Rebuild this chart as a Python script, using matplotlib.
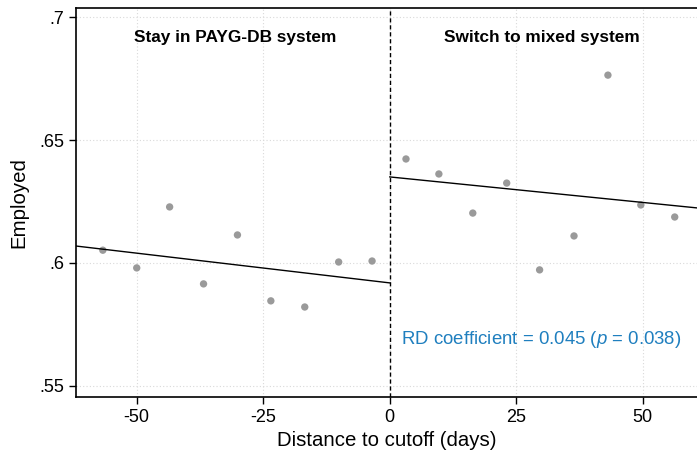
import numpy as np
import matplotlib.pyplot as plt

plt.rcParams['font.family'] = ['Liberation Sans', 'DejaVu Sans']
plt.rcParams['mathtext.fontset'] = 'custom'
plt.rcParams['mathtext.it'] = 'Liberation Sans:italic'
plt.rcParams['mathtext.rm'] = 'Liberation Sans'

# binned means, left of cutoff
x_left = [-56.7, -50.0, -43.5, -36.8, -30.1, -23.5, -16.8, -10.1, -3.5]
y_left = [0.6052, 0.5980, 0.6228, 0.5915, 0.6114, 0.5846, 0.5821, 0.6004, 0.6008]
# binned means, right of cutoff
x_right = [3.2, 9.7, 16.4, 23.1, 29.6, 36.4, 43.1, 49.6, 56.3]
y_right = [0.6423, 0.6362, 0.6203, 0.6325, 0.5972, 0.6110, 0.6764, 0.6236, 0.6187]

# fitted lines (endpoints)
fit_left_x = [-62, 0]
fit_left_y = [0.6069, 0.5919]
fit_right_x = [0, 60.7]
fit_right_y = [0.6350, 0.6224]

xticks = [-50, -25, 0, 25, 50]
yticks = [0.55, 0.6, 0.65, 0.7]
ytick_labels = ['.55', '.6', '.65', '.7']

fig = plt.figure(figsize=(6.97, 4.51), dpi=100)
ax = fig.add_axes([76/697, 1 - 397/451, 621/697, 389/451])

ax.set_xlim(-62, 60.7)
ax.set_ylim(0.5455, 0.7037)

for t in xticks:
    ax.axvline(t, color='#d9d9d9', lw=0.8, ls=(0, (1, 2)), zorder=0)
for t in yticks:
    ax.axhline(t, color='#d9d9d9', lw=0.8, ls=(0, (1, 2)), zorder=0)

ax.axvline(0, color='black', lw=1.0, ls=(0, (3, 2)), zorder=2)

ax.scatter(x_left, y_left, s=28, color='#9a9a9a', edgecolors='none', zorder=3)
ax.scatter(x_right, y_right, s=28, color='#9a9a9a', edgecolors='none', zorder=3)
ax.plot(fit_left_x, fit_left_y, color='black', lw=1.0, zorder=4)
ax.plot(fit_right_x, fit_right_y, color='black', lw=1.0, zorder=4)

ax.set_xticks(xticks)
ax.set_xticklabels(['-50', '-25', '0', '25', '50'])
ax.set_yticks(yticks)
ax.set_yticklabels(ytick_labels)
ax.tick_params(labelsize=13, length=5, width=1, color='black')

ax.spines['right'].set_visible(False)
for s in ['left', 'bottom', 'top']:
    ax.spines[s].set_linewidth(1.2)

ax.set_xlabel('Distance to cutoff (days)', fontsize=14.7, labelpad=4)
ax.set_ylabel('Employed', fontsize=14.7, labelpad=8)

ax.text(-30.5, 0.6916, 'Stay in PAYG-DB system', ha='center', va='center',
        fontsize=12.4, fontweight='bold')
ax.text(30.0, 0.6916, 'Switch to mixed system', ha='center', va='center',
        fontsize=12.4, fontweight='bold')
ax.text(2.2, 0.5688, 'RD coefficient = 0.045 ($\\it{p}$ = 0.038)', ha='left',
        va='center', fontsize=13.4, color='#1f7fbf')

fig.savefig('out.png', dpi=100)
